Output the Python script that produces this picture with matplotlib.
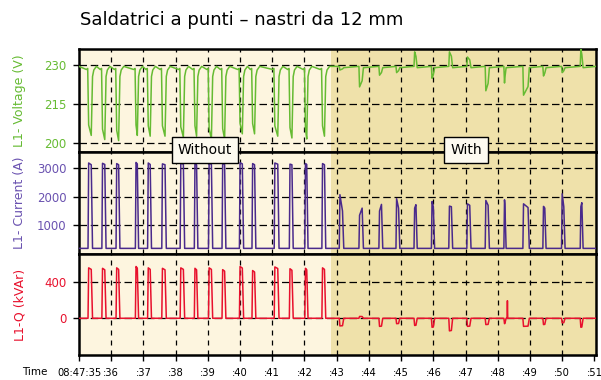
import matplotlib
matplotlib.use("Agg")
import matplotlib.pyplot as plt

# --- dati (secondi dopo 08:47:35) ---
pulse_start = [0.28, 0.71, 1.15, 1.75, 2.13, 2.57, 3.14, 3.58, 4.02, 4.44, 4.98, 5.37, 6.06, 6.53, 7.01, 7.54,
               8.08, 8.69, 9.31, 9.84, 10.40, 10.94, 11.48, 12.04, 12.61, 13.19, 13.78, 14.40, 14.98, 15.56]
pulse_end = [0.40, 0.82, 1.25, 1.83, 2.23, 2.69, 3.26, 3.67, 4.13, 4.54, 5.09, 5.47, 6.19, 6.63, 7.09, 7.64,
             8.20, 8.81, 9.41, 9.94, 10.48, 11.02, 11.58, 12.15, 12.72, 13.24, 13.96, 14.48, 15.07, 15.63]

# corrente (A): valore a inizio impulso e a fine impulso
current_first = [3180, 3170, 3160, 3200, 3180, 3150, 3170, 3160, 3180, 3170, 3190, 3160, 3180, 3140, 3160, 3160,
                 2070, 1350, 1500, 1930, 1600, 1830, 1670, 1750, 1870, 1890, 1750, 1660, 2100, 1650]
current_last = [3120, 3130, 3120, 3150, 3130, 3120, 3140, 3120, 3130, 3130, 3150, 3120, 3140, 3120, 3130, 3120,
                1500, 1600, 1730, 1600, 1720, 1650, 1650, 1700, 1700, 1750, 1620, 1600, 1650, 1790]
current_base = 190

# tensione (V): minimo (o massimo) durante l'impulso
voltage_ext = [202.8, 201.2, 200.8, 202.8, 202.5, 202.5, 202.1, 202.5, 201.4, 201.4, 203.4, 203.4, 202.5, 201.8,
               201.4, 202.5,
               228.0, 221.5, 226.0, 227.0, 235.0, 224.8, 235.0, 233.0, 220.0, 223.0, 218.3, 225.7, 227.0, 236.0]
voltage_base = 229.4

# potenza reattiva Q (kVAr)
q_ext = [560, 555, 560, 575, 560, 555, 560, 555, 560, 540, 575, 530, 570, 550, 555, 560,
         -85, 20, -90, -60, -80, -100, -140, -90, -70, -60, -90, -70, -50, -100]
q_spike_t = [13.30]
q_spike_v = [195]

shade_split = 7.82
tick_labels = ["08:47:35"] + [f":{s}" for s in range(36, 52)]

C_V = "#66bb33"
C_I = "#4a2a8c"
C_I_TXT = "#6a52b0"
C_Q = "#e8112d"
BG_LEFT = "#fdf5df"
BG_RIGHT = "#efe1aa"


def pulse_series(first, last, base):
    """Costruisce i vertici della linea a impulsi."""
    xs, ys = [0.0], [base]
    for i, (s, e) in enumerate(zip(pulse_start, pulse_end)):
        xs += [s, s + 0.02, e - 0.02, e + 0.02]
        ys += [base, first[i], last[i], base]
    xs.append(16.05)
    ys.append(base)
    return xs, ys


def voltage_series():
    xs, ys = [0.0], [voltage_base]
    for i, (s, e) in enumerate(zip(pulse_start, pulse_end)):
        v = voltage_ext[i]
        if i < 16:
            xs += [s - 0.05, s - 0.01, s + 0.02, e - 0.02, e + 0.02, e + 0.06, e + 0.14]
            ys += [voltage_base - 1.2, voltage_base - 0.8, v + 4, v, 225.5, 228.0, voltage_base]
        else:
            xs += [s, s + 0.02, e - 0.02, e + 0.02]
            ys += [voltage_base, v, v + (voltage_base - v) * 0.3, voltage_base - 0.5]
    xs.append(16.05)
    ys.append(voltage_base)
    return xs, ys


def q_series():
    xs, ys = [0.0], [0.0]
    spikes = dict(zip(q_spike_t, q_spike_v))
    for i, (s, e) in enumerate(zip(pulse_start, pulse_end)):
        xs += [s, s + 0.02, e - 0.02, e + 0.02]
        ys += [0, q_ext[i], q_ext[i] * 0.97, 0]
        for t, v in spikes.items():
            if e < t < e + 0.2:
                xs += [t - 0.01, t, t + 0.01]
                ys += [0, v, 0]
    xs.append(16.05)
    ys.append(0)
    return xs, ys


fig = plt.figure(figsize=(6.01, 3.80), dpi=100)
left, width = 79 / 601, 517 / 601
ax_v = fig.add_axes([left, 1 - 152 / 380, width, 103 / 380])
ax_i = fig.add_axes([left, 1 - 254 / 380, width, 102 / 380], sharex=ax_v)
ax_q = fig.add_axes([left, 1 - 355 / 380, width, 101 / 380], sharex=ax_v)

panels = [
    (ax_v, voltage_series(), C_V, C_V, "L1- Voltage (V)", [200, 215, 230], (196.4, 236.1)),
    (ax_i, pulse_series(current_first, current_last, current_base), C_I, C_I_TXT, "L1- Current (A)",
     [1000, 2000, 3000], (-7, 3566)),
    (ax_q, q_series(), C_Q, C_Q, "L1-Q (kVAr)", [0, 400], (-408, 714)),
]

for ax, (xs, ys), col, txtcol, label, yt, ylim in panels:
    ax.axvspan(0, shade_split, color=BG_LEFT, lw=0, zorder=0)
    ax.axvspan(shade_split, 16.05, color=BG_RIGHT, lw=0, zorder=0)
    for y in yt:
        ax.axhline(y, color="black", lw=0.9, ls=(0, (6, 3)), zorder=1)
    for s in range(1, 16):
        ax.axvline(s, color="black", lw=0.9, ls=(0, (4, 4)), zorder=1)
    ax.plot(xs, ys, color=col, lw=1.1, zorder=3)
    ax.set_xlim(0, 16.05)
    ax.set_ylim(*ylim)
    ax.set_yticks(yt)
    ax.set_yticklabels([str(v) for v in yt], color=txtcol, fontsize=8.5)
    ax.tick_params(axis="y", length=4, width=1, pad=5)
    ax.set_ylabel(label, color=txtcol, fontsize=9)
    ax.yaxis.set_label_coords(-0.102, 0.5)
    for sp in ax.spines.values():
        sp.set_linewidth(1.8)

ax_v.tick_params(axis="x", bottom=False, labelbottom=False)
ax_i.tick_params(axis="x", bottom=False, labelbottom=False)
ax_q.set_xticks(range(17))
ax_q.set_xticklabels(tick_labels, fontsize=7.2)
ax_q.tick_params(axis="x", length=4, width=1, pad=5)

fig.text(22 / 601, 1 - 372 / 380, "Time", fontsize=7.5, ha="left", va="center")
fig.text(80 / 601, 1 - 20 / 380, "Saldatrici a punti \u2013 nastri da 12 mm", fontsize=13,
         ha="left", va="center")

box = dict(boxstyle="square,pad=0.45", fc="#fdfaf0", ec="black", lw=1.0)
fig.text(205 / 601, 1 - 150 / 380, "Without", fontsize=10, ha="center", va="center", bbox=box, zorder=10)
fig.text(466 / 601, 1 - 150 / 380, "With", fontsize=10, ha="center", va="center", bbox=box, zorder=10)

fig.savefig("out.png", dpi=100)
